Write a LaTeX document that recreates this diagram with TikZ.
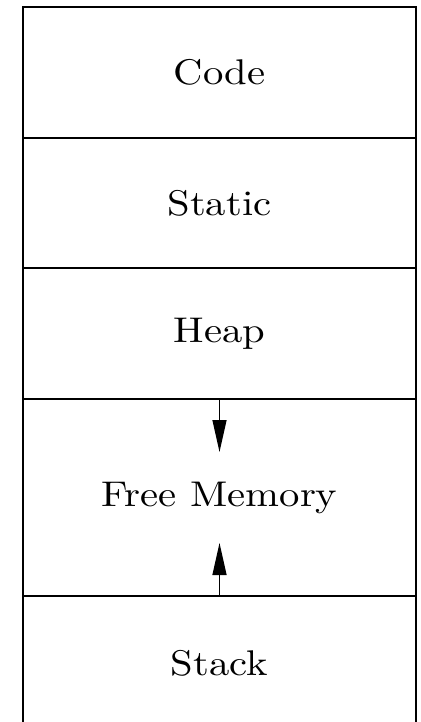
\documentclass[tikz,border=0pt]{standalone}
\usepackage{fontspec}
\newfontfamily\seglabelfont{lmroman10-regular.otf}[FakeStretch=1.14]
\usetikzlibrary{arrows.meta}
\begin{document}
\begin{tikzpicture}[x=1pt,y=-1pt,
  seg/.style={draw=black,line width=1.5pt,minimum width=393pt,inner sep=0pt,outer sep=0pt,
    font=\seglabelfont\fontsize{35.7}{42}\selectfont},
  pointer/.style={line width=1.3pt,-{Triangle[length=32pt,width=14pt]}}]
\useasboundingbox (0,0) rectangle (420,722);
\node[seg,minimum height=131pt] (code) at (219.5,72.5) {Code};
\node[seg,minimum height=130pt] (static) at (219.5,203) {Static};
\node[seg,minimum height=131pt] (heap) at (219.5,333.5) {Heap};
\node[seg,minimum height=197pt] (free) at (219.5,497.5) {Free Memory};
\node[seg,minimum height=140pt] (stack) at (219.5,666) {\raisebox{6pt}{Stack}};
\coordinate (downtip) at ([yshift=-53pt]heap.south);
\coordinate (uptip) at ([yshift=53pt]stack.north);
\draw[pointer] (heap.south) -- (downtip);
\draw[pointer] (stack.north) -- (uptip);
\end{tikzpicture}
\end{document}
